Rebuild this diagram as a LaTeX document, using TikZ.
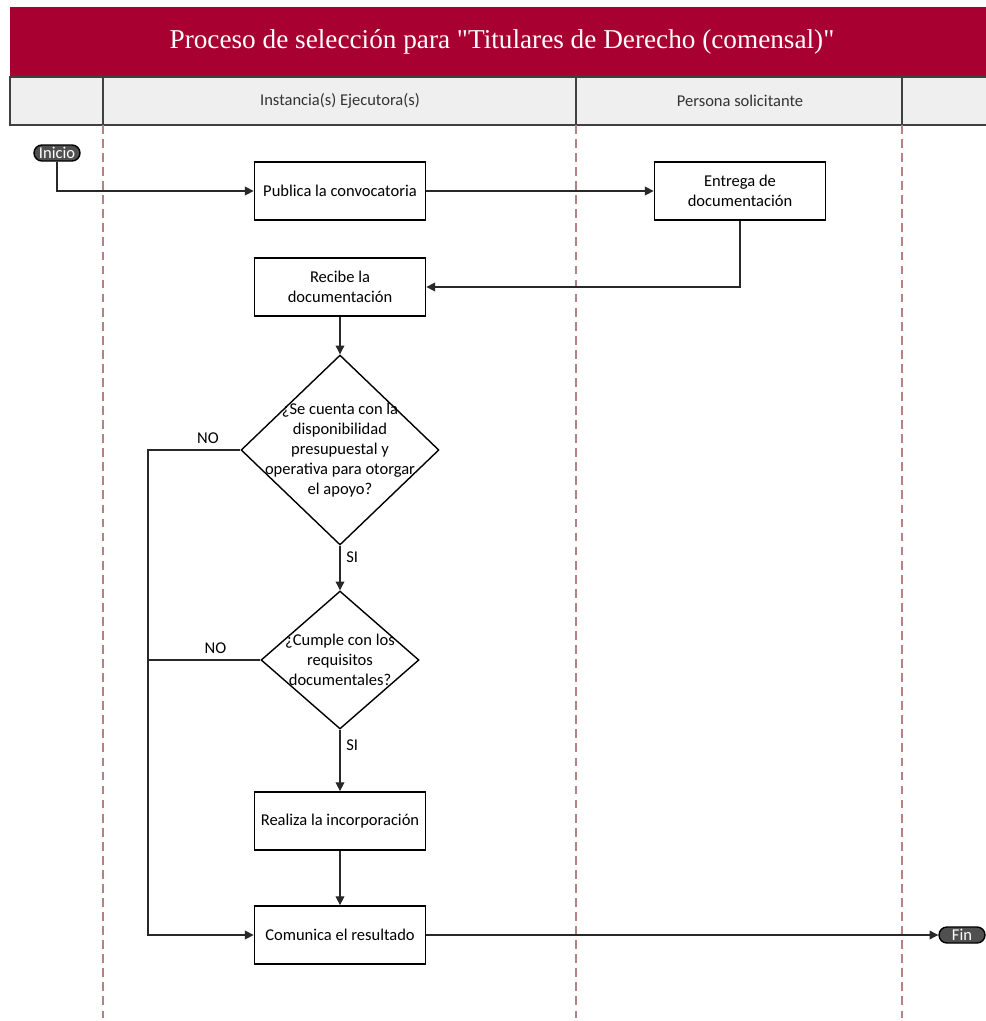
\documentclass[tikz,border=0pt]{standalone}
\usepackage{fontspec}
\setmainfont{Carlito}
\newfontfamily\titlefont{Liberation Serif}
\usepackage{tikz}
\usetikzlibrary{arrows.meta,positioning,shapes.geometric}
\definecolor{titlered}{RGB}{168,0,48}
\definecolor{lanegray}{RGB}{239,239,239}
\definecolor{lanedash}{RGB}{180,130,130}
\definecolor{pillgray}{RGB}{80,80,80}
\definecolor{linegray}{RGB}{40,40,40}
\tikzset{
  % 流程框
  process/.style={
    draw=black,
    line width=1pt,
    minimum width=3.42cm,
    minimum height=1.16cm,
    align=center,
    font=\fontsize{9.4}{11.3}\selectfont
  },
  % 判断框
  decision/.style={
    diamond,
    draw=black,
    line width=0.8pt,
    inner sep=0pt,
    font=\fontsize{9.4}{11.3}\selectfont
  },
  % 起止框
  terminal/.style={
    draw=black,
    line width=0.8pt,
    fill=pillgray,
    rounded corners=0.16cm,
    minimum width=0.92cm,
    minimum height=0.32cm,
    inner sep=0pt,
    text=white,
    font=\fontsize{9.4}{10}\selectfont
  },
  % 箭头样式
  flow/.style={-{Triangle[length=5pt,width=5pt]}, line width=0.6pt, linegray},
  lbl/.style={font=\fontsize{9.4}{10}\selectfont, text=black},
}

\begin{document}
\begin{tikzpicture}[
        x=0.02cm, y=-0.02cm,
        lanehead/.style={font=\fontsize{9.4}{10}\selectfont, text=black!80},
        lanesep/.style={lanedash, line width=0.6pt, dash pattern=on 5pt off 3pt}
    ]
        \useasboundingbox (0,0) rectangle (985,1021);

        % 标题栏
        \fill[titlered] (10,7) rectangle (990,77);
        \node[text=white, font=\titlefont\fontsize{15.5}{18}\selectfont] (title) at (502,42)
            {Proceso de selección para "Titulares de Derecho (comensal)"};

        % 泳道表头
        \draw[black!75, line width=0.8pt, fill=lanegray] (10,77) rectangle (990,125);
        \foreach \x in {103,576,902}
            \draw[black!75, line width=0.8pt] (\x,77) -- (\x,125);
        \node[lanehead] (lane1) at (340,101) {Instancia(s) Ejecutora(s)};
        \node[lanehead] (lane2) at (740,101) {Persona solicitante};

        % 泳道分隔线
        \foreach \x in {103,576,902}
            \draw[lanesep] (\x,125) -- (\x,1018);

        % 流程节点
        \node[terminal] (inicio) at (57,153) {Inicio};
        \node[process] (publica) at (340,191) {Publica la convocatoria};
        \node[process] (entrega) at (740,191) {Entrega de\\documentación};
        \node[process] (recibe) at (340,287) {Recibe la\\documentación};
        \node[decision, minimum width=3.96cm, minimum height=3.8cm,
            label={[lbl, align=center, font=\fontsize{9.4}{11.3}\selectfont]center:{¿Se cuenta con la\\disponibilidad\\presupuestal y\\operativa para otorgar\\el apoyo?}}]
            (q1) at (340,450) {};
        \node[decision, minimum width=3.16cm, minimum height=2.76cm,
            label={[lbl, align=center, font=\fontsize{9.4}{11.3}\selectfont]center:{¿Cumple con los\\requisitos\\documentales?}}]
            (q2) at (340,660) {};
        \node[process] (realiza) at (340,821) {Realiza la incorporación};
        \node[process] (comunica) at (340,935) {Comunica el resultado};
        \node[terminal] (fin) at (962,935) {Fin};

        % 连线
        \draw[flow] (inicio.south) |- (publica.west);
        \draw[flow] (publica) -- (entrega);
        \draw[flow] (entrega.south) |- (recibe.east);
        \draw[flow] (recibe) -- (q1);
        \draw[flow] (q1) -- node[lbl, right, pos=0.25] {SI} (q2);
        \draw[flow] (q2) -- node[lbl, right, pos=0.25] {SI} (realiza);
        \draw[flow] (realiza) -- (comunica);
        \draw[flow] (comunica) -- (fin);

        % NO 分支
        \coordinate (bypass) at (148,450);
        \draw[flow] (q1.west) -- node[lbl, above, pos=0.35] {NO} (bypass) |- (comunica.west);
        \draw[line width=0.6pt, linegray] (q2.west) -- node[lbl, above, pos=0.4] {NO} (q2.west -| bypass);
    \end{tikzpicture}
\end{document}
